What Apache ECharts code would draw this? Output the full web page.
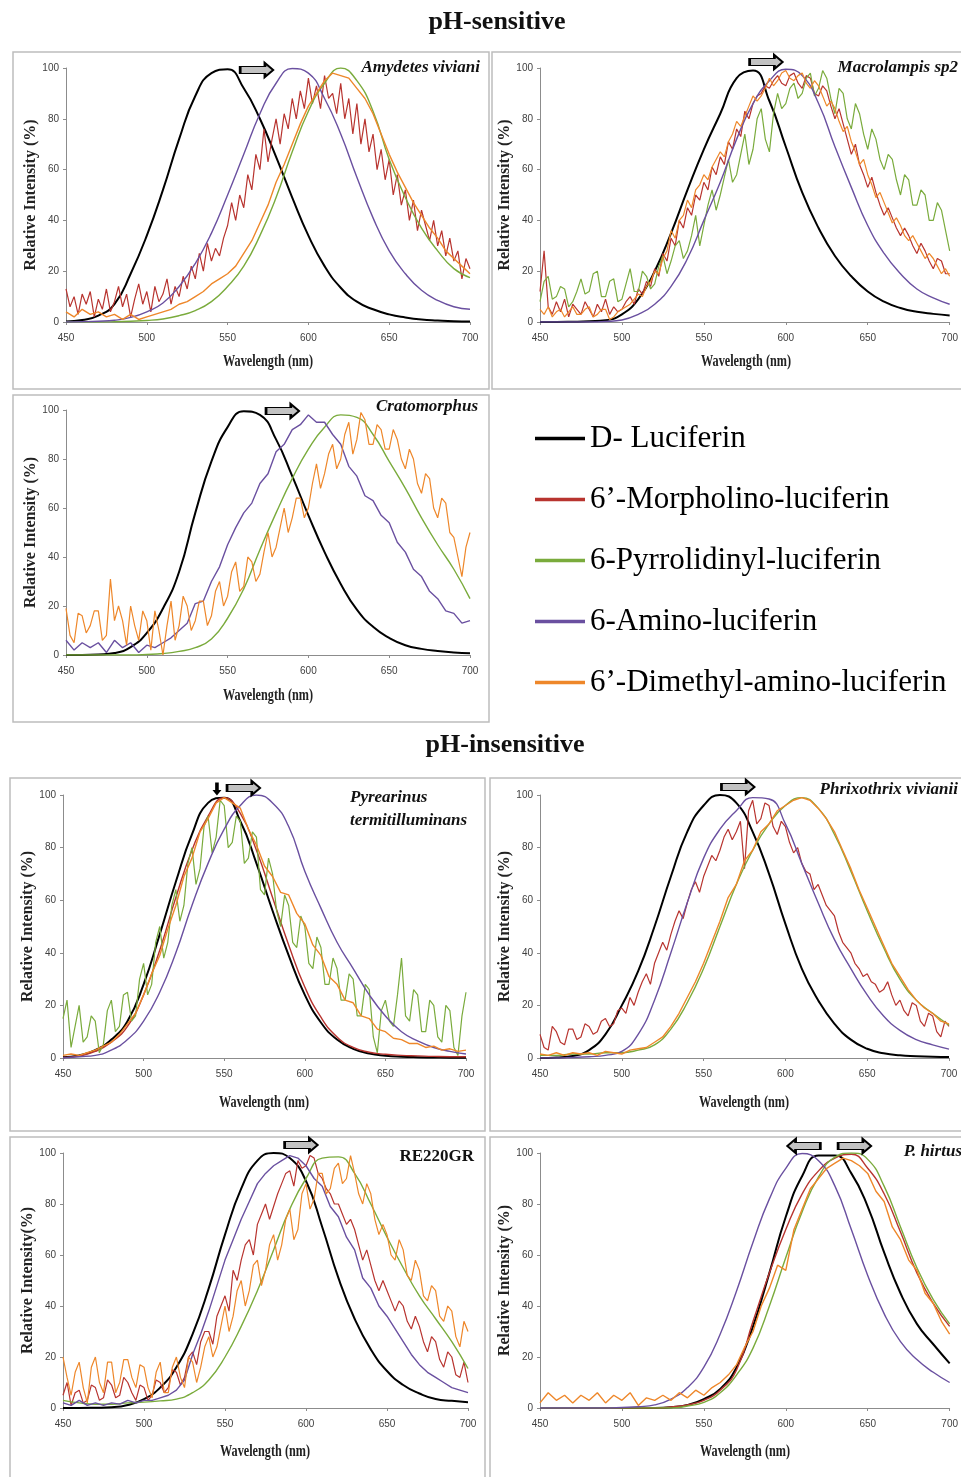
<!DOCTYPE html>
<html>
<head>
<meta charset="utf-8">
<title>Luciferin analogues – emission spectra</title>
<script src="https://cdn.jsdelivr.net/npm/echarts@6/dist/echarts.min.js"></script>
<style>
html, body { margin: 0; padding: 0; background: #fff; }
#chart { width: 961px; height: 1477px; }
</style>
</head>
<body>
<div id="chart"></div>
<script>
// wavelength grids (nm)
var wl10 = [450, 460, 470, 480, 490, 500, 510, 520, 530, 540, 550, 560, 570,
            580, 590, 600, 610, 620, 630, 640, 650, 660, 670, 680, 690, 700];
var wl5 = [450, 455, 460, 465, 470, 475, 480, 485, 490, 495,
           500, 505, 510, 515, 520, 525, 530, 535, 540, 545,
           550, 555, 560, 565, 570, 575, 580, 585, 590, 595,
           600, 605, 610, 615, 620, 625, 630, 635, 640, 645,
           650, 655, 660, 665, 670, 675, 680, 685, 690, 695, 700];
var wl25 = [450, 452.5, 455, 457.5, 460, 462.5, 465, 467.5, 470, 472.5,
            475, 477.5, 480, 482.5, 485, 487.5, 490, 492.5, 495, 497.5,
            500, 502.5, 505, 507.5, 510, 512.5, 515, 517.5, 520, 522.5,
            525, 527.5, 530, 532.5, 535, 537.5, 540, 542.5, 545, 547.5,
            550, 552.5, 555, 557.5, 560, 562.5, 565, 567.5, 570, 572.5,
            575, 577.5, 580, 582.5, 585, 587.5, 590, 592.5, 595, 597.5,
            600, 602.5, 605, 607.5, 610, 612.5, 615, 617.5, 620, 622.5,
            625, 627.5, 630, 632.5, 635, 637.5, 640, 642.5, 645, 647.5,
            650, 652.5, 655, 657.5, 660, 662.5, 665, 667.5, 670, 672.5,
            675, 677.5, 680, 682.5, 685, 687.5, 690, 692.5, 695, 697.5, 700];

var names = ['D- Luciferin', '6’-Morpholino-luciferin', '6-Pyrrolidinyl-luciferin',
             '6-Amino-luciferin', '6’-Dimethyl-amino-luciferin'];
var colors = ['#000000', '#b8342f', '#7aab3c', '#6a50a0', '#ee872a'];

// Amydetes viviani
var p1Black = [0.2, 0.8, 2.5, 7, 19, 34, 52, 72, 89, 98, 99.5, 92, 80, 65, 49, 34, 22, 13.5, 8, 5, 3, 1.8, 1, 0.6, 0.3, 0.2];
var p1Green = [0, 0, 0, 0.1, 0.3, 0.6, 1.2, 2.5, 4.5, 8, 14, 22, 34, 49, 67, 83, 94, 100, 95, 83, 64, 49, 37, 28, 21, 17.5];
var p1Purple = [0, 0.1, 0.3, 0.7, 1.8, 4, 7.5, 14, 23, 35, 50, 66, 82, 94, 99.8, 98, 88, 74, 57, 41, 28, 19, 12.5, 8.5, 6, 5];
var p1Red = [13, 6, 10, 3, 11, 7, 12, 2, 9, 5,
             13, 4, 8, 14, 6, 11, 2, 9, 15, 7,
             12, 4, 14, 8, 11, 17, 7, 14, 10, 18,
             13, 22, 17, 27, 20, 31, 24, 29, 26, 33,
             38, 47, 40, 50, 45, 58, 52, 66, 60, 76,
             63, 72, 80, 70, 82, 76, 88, 80, 91, 84,
             96, 86, 93, 84, 97, 88, 90, 82, 94, 80,
             88, 74, 86, 70, 80, 67, 74, 60, 68, 56,
             64, 50, 58, 46, 52, 40, 48, 36, 44, 38,
             32, 40, 30, 36, 26, 33, 24, 28, 17, 25, 21];
var p1Orange = [4, 2, 5, 3, 4, 2, 3, 1, 3, 1,
                2, 3, 4, 5, 7, 8, 10, 12, 15, 17,
                19, 22, 27, 32, 39, 46, 55, 62, 70, 78,
                85, 90, 95, 98, 97, 96, 92, 88, 82, 74,
                66, 59, 53, 47, 42, 37, 33, 28, 25, 22, 19];

// Macrolampis sp2
var p2Black = [0, 0, 0.1, 0.3, 0.7, 3, 9, 20, 35, 52, 68, 82, 96, 99, 87, 69, 51, 37, 26, 18, 12, 8, 5.5, 4, 3.2, 2.6];
var p2Purple = [0, 0, 0, 0, 0.2, 0.8, 3, 7, 14, 25, 40, 55, 72, 86, 95, 99.5, 97, 86, 69, 53, 38, 27, 19, 13, 9.5, 7];
var p2Red = [12, 28, 6, 3, 8, 4, 9, 2, 7, 5,
             3, 8, 5, 2, 7, 4, 9, 3, 6, 4,
             5, 8, 10, 7, 13, 11, 16, 14, 21, 18,
             27, 24, 33, 30, 40, 37, 45, 42, 50, 48,
             55, 52, 61, 58, 65, 62, 71, 68, 76, 73,
             83, 80, 86, 89, 90, 93, 92, 95, 97, 94,
             93, 97, 98, 94, 92, 97, 96, 90, 89, 93,
             91, 85, 80, 84, 78, 72, 66, 70, 62, 58,
             53, 57, 51, 46, 42, 45, 41, 37, 34, 37,
             34, 30, 27, 31, 28, 24, 21, 25, 24, 19, 19];
var p2Green = [8, 16, 18, 9, 10, 14, 13, 6, 8, 12,
               17, 11, 12, 19, 20, 10, 10, 16, 17, 8,
               9, 15, 21, 12, 12, 20, 18, 13, 15, 22,
               26, 19, 24, 30, 32, 25, 28, 34, 42, 30,
               38, 46, 52, 44, 50, 57, 64, 55, 58, 66,
               74, 62, 68, 80, 84, 72, 67, 82, 90, 84,
               86, 92, 94, 88, 90, 96, 98, 89, 92, 99,
               96, 88, 82, 92, 90, 80, 76, 86, 82, 74,
               68, 76, 72, 64, 60, 66, 64, 56, 50, 58,
               56, 46, 46, 52, 50, 40, 40, 47, 44, 36, 28];
var p2Orange = [5, 3, 6, 2, 4, 5, 2, 4, 6, 3,
                3, 5, 6, 2, 3, 5, 5, 1, 2, 4,
                5, 6, 7, 9, 11, 10, 14, 16, 20, 19,
                25, 28, 36, 33, 40, 42, 48, 45, 52, 54,
                58, 56, 61, 64, 67, 65, 71, 74, 79, 77,
                81, 85, 89, 87, 89, 92, 96, 93, 95, 98,
                99, 96, 95, 97, 98, 94, 92, 95, 93, 89,
                85, 87, 84, 79, 75, 77, 71, 67, 62, 64,
                58, 54, 49, 51, 47, 43, 39, 41, 38, 34,
                32, 34, 31, 28, 25, 27, 25, 22, 19, 21, 18];

// Cratomorphus
var p3Black = [0, 0, 0.2, 0.8, 3.2, 9, 19, 34, 58, 79, 93, 99.5, 98, 88, 73, 57, 42, 29, 18.5, 11.5, 7, 4, 2.5, 1.6, 1, 0.7];
var p3Green = [0, 0, 0, 0, 0, 0.2, 0.6, 1.5, 3, 6.5, 15, 27, 43, 58, 72, 84, 93, 98, 97, 90, 79, 68, 56, 45, 35, 23];
var p3Purple = [6, 2, 5, 3, 5, 1, 6, 3, 5, 1,
                4, 3, 5, 7, 10, 13, 21, 22, 30, 36,
                45, 52, 58, 62, 70, 74, 83, 86, 92, 94,
                98, 95, 95, 90, 86, 77, 73, 65, 63, 57,
                54, 46, 42, 35, 32, 26, 23, 18, 17, 13, 14];
var p3Orange = [19, 8, 5, 17, 16, 9, 12, 18, 18, 6,
                8, 31, 14, 20, 14, 4, 20, 12, 6, 18,
                14, 2, 18, 10, 0, 12, 22, 6, 12, 24,
                20, 10, 14, 22, 22, 12, 16, 26, 30, 20,
                24, 34, 38, 26, 28, 40, 38, 30, 33, 42,
                50, 40, 44, 52, 60, 50, 56, 64, 64, 56,
                60, 70, 78, 68, 74, 82, 86, 76, 80, 90,
                95, 82, 88, 99, 96, 86, 86, 94, 92, 84,
                84, 92, 88, 80, 76, 84, 80, 70, 66, 74,
                72, 60, 56, 64, 62, 50, 48, 40, 32, 44, 50];

// Pyrearinus termitilluminans
var p4Black = [0.3, 1, 3, 7, 14, 28, 47, 67, 85, 97, 99, 90, 74, 56, 39, 24, 13.5, 7, 3.5, 1.7, 0.9, 0.5, 0.3, 0.2, 0.1, 0.1];
var p4Red = [0.2, 0.8, 2.5, 6, 12, 24, 41, 61, 79, 92, 99, 93, 79, 61, 43, 27, 15.5, 8, 4, 2.2, 1.4, 1, 0.8, 0.6, 0.5, 0.5];
var p4Purple = [0, 0.5, 1, 3, 7, 14, 25, 40, 58, 74, 87, 96, 100, 97, 88, 71, 57, 44, 34, 24, 16, 10, 6.5, 4, 2.5, 1.5];
var p4Green = [15, 22, 4, 12, 20, 6, 8, 16, 14, 2,
               5, 18, 22, 10, 12, 24, 25, 14, 16, 30,
               36, 24, 28, 44, 50, 38, 44, 58, 64, 52,
               58, 74, 80, 66, 72, 88, 92, 78, 84, 98,
               96, 80, 82, 92, 90, 74, 76, 86, 84, 64,
               62, 76, 70, 56, 50, 62, 58, 44, 42, 54,
               50, 36, 34, 46, 42, 28, 28, 38, 34, 22,
               22, 32, 30, 16, 16, 28, 26, 8, 2, 18,
               22, 14, 12, 24, 38, 16, 14, 26, 24, 10,
               10, 22, 20, 8, 6, 20, 18, 4, 1, 16, 25];
var p4Orange = [1, 1.5, 1, 2, 3, 4.5, 6, 9, 13, 17,
                24, 32, 39, 49, 58, 69, 76, 86, 91, 97,
                99, 97, 95, 87, 81, 73, 69, 63, 62, 55,
                51, 43, 39, 31, 28, 22, 21, 16, 15, 11,
                10, 7.5, 7, 5.5, 5.5, 4, 4.5, 3, 3.5, 2.5, 3];

// Phrixothrix vivianii
var p5Black = [0, 0.2, 0.8, 3, 9, 20, 33, 50, 69, 86, 96, 100, 97, 86, 70, 51, 34, 22, 13, 7, 3.5, 1.8, 1, 0.7, 0.5, 0.4];
var p5Green = [1, 1, 1.5, 1.5, 2, 2, 3, 5, 11, 21, 34, 50, 66, 79, 89, 96, 99, 95, 85, 71, 56, 42, 30, 22, 17, 12.5];
var p5Purple = [0, 0, 0.2, 0.5, 1, 2.5, 9, 22, 40, 59, 76, 87, 94, 99, 98.5, 89, 74, 59, 45, 34, 24, 16, 10.5, 7, 5, 3.4];
var p5Red = [9, 4, 3, 12, 10, 6, 5, 11, 11, 7,
             8, 13, 12, 9, 10, 14, 15, 12, 13, 18,
             19, 17, 23, 20, 25, 29, 32, 28, 36, 40,
             44, 41, 47, 52, 56, 53, 59, 64, 67, 63,
             69, 73, 77, 75, 79, 84, 87, 83, 86, 90,
             72, 94, 98, 89, 91, 97, 96, 88, 85, 90,
             88, 82, 78, 80, 74, 71, 70, 64, 66, 62,
             58, 56, 54, 48, 44, 42, 40, 36, 34, 31,
             32, 29, 28, 25, 26, 29, 24, 20, 22, 18,
             16, 21, 20, 14, 12, 17, 16, 10, 8, 14, 12];
var p5Orange = [1.5, 1, 2, 1, 2, 1.5, 2, 1, 2.5, 2,
                1.5, 3, 3.5, 4, 6, 8, 12, 17, 23, 29,
                36, 44, 52, 61, 66, 75, 79, 86, 89, 94,
                96, 98, 99, 98, 95, 91, 86, 79, 72, 64,
                57, 50, 43, 36, 31, 26, 22, 19, 17, 14, 13];

// RE220GR
var p6Black = [0, 0, 0.1, 0.3, 1.2, 3.5, 8, 16, 29, 47, 68, 86, 97, 100, 98, 89, 71, 51, 35, 23, 14.5, 9, 5.7, 3.5, 2.8, 2.3];
var p6Green = [3, 2, 1.5, 1.5, 2, 2.3, 2.8, 3.5, 6, 11, 20, 32, 46, 62, 78, 90, 98, 98.5, 92, 80, 67, 55, 44, 35, 26, 15.5];
var p6Red = [5, 10, 1, 6, 7, 2, 3, 9, 8, 3,
             4, 11, 9, 4, 5, 12, 10, 6, 3, 9,
             8, 3, 5, 11, 10, 6, 8, 15, 14, 9,
             12, 20, 22, 17, 26, 30, 30, 25, 36, 40,
             44, 38, 54, 50, 58, 64, 66, 60, 72, 76,
             80, 74, 79, 84, 88, 92, 93, 87, 97, 94,
             95, 99, 98, 92, 90, 86, 84, 80, 80, 76,
             72, 74, 70, 64, 58, 62, 56, 50, 46, 50,
             46, 42, 38, 42, 40, 34, 31, 36, 32, 26,
             22, 28, 26, 19, 16, 22, 20, 13, 12, 18, 10];
var p6Purple = [2, 1, 3, 1, 2, 1, 2, 1.5, 3, 2,
                3, 3, 4, 5, 7, 11, 21, 29, 38, 48,
                58, 66, 74, 81, 88, 92, 95, 97, 99, 98,
                95, 90, 87, 79, 75, 67, 62, 51, 47, 40,
                36, 31, 26, 21, 17, 14, 12, 10, 8, 7, 6];
var p6Orange = [20, 12, 5, 14, 18, 8, 2, 16, 20, 10,
                6, 18, 18, 6, 10, 19, 19, 12, 8, 17,
                16, 8, 4, 14, 18, 6, 6, 16, 20, 12,
                8, 20, 18, 10, 16, 24, 28, 20, 24, 32,
                40, 30, 36, 46, 50, 40, 46, 56, 58, 48,
                54, 64, 68, 58, 64, 74, 78, 66, 70, 84,
                88, 78, 82, 92, 92, 84, 86, 94, 96, 88,
                90, 99, 92, 84, 80, 88, 84, 74, 68, 72,
                68, 60, 58, 66, 62, 52, 50, 58, 54, 44,
                42, 48, 46, 36, 34, 40, 38, 28, 24, 34, 30];

// P. hirtus
var p7Black = [0, 0, 0, 0, 0, 0, 0, 0, 0.3, 1.2, 3.5, 7.5, 16, 32, 53, 75, 91, 99, 99, 92, 79, 61, 45, 33, 25, 17.5];
var p7Red = [0, 0, 0, 0, 0, 0, 0, 0, 0.4, 1.2, 3, 7, 15, 34, 53, 70, 84, 93, 98, 99.5, 94, 84, 69, 53, 41, 32];
var p7Green = [0, 0, 0, 0, 0, 0, 0, 0, 0, 0.8, 2.2, 6, 13, 23.5, 40, 59, 77, 90.6, 98.4, 100, 97.5, 87, 71, 55, 42.5, 33];
var p7Purple = [0, 0, 0, 0, 0, 0.2, 0.5, 1.2, 3.5, 8, 16, 29, 46, 65, 82, 94, 99.8, 97, 87, 70, 52, 37, 26, 19, 14, 10];
var p7Orange = [2, 6, 3, 5, 2, 5, 3, 6, 2, 5,
                3, 6, 1, 4, 3, 5, 3, 6, 4, 7,
                5, 8, 10, 13, 17, 24, 30, 40, 47, 56,
                54, 70, 78, 86, 90, 94, 96, 98, 97, 95,
                92, 85, 81, 71, 66, 58, 54, 45, 41, 34, 29];

var ARROW_R = 'path://M0,3.5 L24,3.5 L24,0 L32,7 L24,14 L24,10.5 L0,10.5 Z';
var ARROW_L = 'path://M32,3.5 L8,3.5 L8,0 L0,7 L8,14 L8,10.5 L32,10.5 Z';
var ARROW_D = 'path://M3,0 L7,0 L7,8 L10,8 L5,14 L0,8 L3,8 Z';

var panels = [
    {
        grid: [66, 68, 404, 254], box: [13, 52, 476, 337], xname: [268, 362],
        label: { text: 'Amydetes viviani', x: 480, y: 68, align: 'right', italic: true },
        lines: [[0, wl10, p1Black], [1, wl25, p1Red], [2, wl10, p1Green], [3, wl10, p1Purple], [4, wl5, p1Orange]],
        arrows: [{ symbol: ARROW_R, coord: [568, 100], offset: [0, 2] }]
    },
    {
        grid: [540, 68, 411, 254], box: [492, 52, 475, 337], xname: [746, 362],
        label: { text: 'Macrolampis sp2', x: 958, y: 68, align: 'right', italic: true },
        lines: [[0, wl10, p2Black], [1, wl25, p2Red], [2, wl25, p2Green], [3, wl10, p2Purple], [4, wl25, p2Orange]],
        arrows: [{ symbol: ARROW_R, coord: [588, 100], offset: [0, -6] }]
    },
    {
        grid: [66, 410, 404, 245], box: [13, 395, 476, 327], xname: [268, 696],
        label: { text: 'Cratomorphus', x: 478, y: 407, align: 'right', italic: true },
        lines: [[0, wl10, p3Black], [2, wl10, p3Green], [3, wl5, p3Purple], [4, wl25, p3Orange]],
        arrows: [{ symbol: ARROW_R, coord: [584, 100], offset: [0, 1] }]
    },
    {
        grid: [63, 795, 403, 263], box: [10, 778, 475, 353], xname: [264, 1103],
        label: { text: 'Pyrearinus\ntermitilluminans', x: 350, y: 786, align: 'left', va: 'top', italic: true },
        lines: [[0, wl10, p4Black], [1, wl10, p4Red], [2, wl25, p4Green], [3, wl10, p4Purple], [4, wl5, p4Orange]],
        arrows: [{ symbol: ARROW_R, coord: [562, 100], offset: [0, -7] },
                 { symbol: ARROW_D, coord: [545.5, 100], offset: [0, -6], size: [9, 13], color: '#000' }]
    },
    {
        grid: [540, 795, 409, 263], box: [490, 778, 476, 353], xname: [744, 1103],
        label: { text: 'Phrixothrix vivianii', x: 958, y: 790, align: 'right', italic: true },
        lines: [[0, wl10, p5Black], [1, wl25, p5Red], [2, wl10, p5Green], [3, wl10, p5Purple], [4, wl5, p5Orange]],
        arrows: [{ symbol: ARROW_R, coord: [571, 100], offset: [0, -8] }]
    },
    {
        grid: [63, 1153, 405, 255], box: [10, 1137, 475, 345], xname: [265, 1452], yname: 'Relative Intensity(%)',
        label: { text: 'RE220GR', x: 474, y: 1157, align: 'right', italic: false },
        lines: [[0, wl10, p6Black], [1, wl25, p6Red], [2, wl10, p6Green], [3, wl5, p6Purple], [4, wl25, p6Orange]],
        arrows: [{ symbol: ARROW_R, coord: [597, 100], offset: [0, -8] }]
    },
    {
        grid: [540, 1153, 410, 255], box: [490, 1137, 476, 345], xname: [745, 1452],
        label: { text: 'P. hirtus', x: 962, y: 1152, align: 'right', italic: true },
        lines: [[0, wl10, p7Black], [1, wl10, p7Red], [2, wl10, p7Green], [3, wl10, p7Purple], [4, wl5, p7Orange]],
        arrows: [{ symbol: ARROW_L, coord: [611, 100], offset: [0, -7] },
                 { symbol: ARROW_R, coord: [642, 100], offset: [0, -7] }]
    }
];

function pairs(xs, ys) {
    return xs.map(function (x, i) { return [x, ys[i]] })
}

var grids = [], xAxes = [], yAxes = [], series = [];
var graphics = [
    { type: 'text', x: 497, y: 22, silent: true,
      style: { text: 'pH-sensitive', align: 'center', verticalAlign: 'middle', fill: '#111',
               fontFamily: 'Liberation Serif', fontWeight: 'bold', fontSize: 26 } },
    { type: 'text', x: 505, y: 745, silent: true,
      style: { text: 'pH-insensitive', align: 'center', verticalAlign: 'middle', fill: '#111',
               fontFamily: 'Liberation Serif', fontWeight: 'bold', fontSize: 26 } }
];

panels.forEach(function (p, gi) {
    grids.push({ left: p.grid[0], top: p.grid[1], width: p.grid[2], height: p.grid[3] });
    xAxes.push({
        type: 'value', gridIndex: gi, min: 450, max: 700, interval: 50,
        axisLine: { lineStyle: { color: '#8c8c8c' } },
        axisTick: { length: 3, lineStyle: { color: '#8c8c8c' } },
        splitLine: { show: false },
        axisLabel: { fontSize: 10, color: '#404040', fontFamily: 'Liberation Sans', margin: 11 }
    });
    yAxes.push({
        type: 'value', gridIndex: gi, min: 0, max: 100, interval: 20,
        name: p.yname || 'Relative Intensity (%)', nameLocation: 'middle', nameGap: 24,
        nameTextStyle: { fontFamily: 'Liberation Serif', fontWeight: 'bold', fontSize: 16, color: '#222' },
        axisLine: { show: true, lineStyle: { color: '#8c8c8c' } },
        axisTick: { show: true, length: 3, lineStyle: { color: '#8c8c8c' } },
        splitLine: { show: false },
        axisLabel: { fontSize: 10, color: '#404040', fontFamily: 'Liberation Sans', margin: 7 }
    });

    p.lines.forEach(function (l, li) {
        var s = {
            type: 'line', name: names[l[0]], xAxisIndex: gi, yAxisIndex: gi,
            data: pairs(l[1], l[2]),
            showSymbol: false, smooth: l[1] === wl10 ? 0.5 : false,
            color: colors[l[0]],
            lineStyle: { width: l[0] === 0 ? 2 : (l[1] === wl25 ? 1.2 : 1.4), color: colors[l[0]] },
            emphasis: { disabled: true }
        };
        if (li === 0) {
            s.markPoint = {
                silent: true, label: { show: false },
                data: p.arrows.map(function (a) {
                    return {
                        coord: a.coord, symbol: a.symbol, symbolSize: a.size || [33, 14],
                        symbolOffset: a.offset,
                        itemStyle: { color: a.color || '#c2c2c2', borderColor: '#000', borderWidth: a.color ? 0 : 1.8 }
                    }
                })
            };
        }
        series.push(s);
    });

    graphics.push({ type: 'rect', silent: true, z: -1,
        shape: { x: p.box[0], y: p.box[1], width: p.box[2], height: p.box[3] },
        style: { fill: 'none', stroke: '#bdbdbd', lineWidth: 1.5 } });
    graphics.push({ type: 'text', x: p.xname[0], y: p.xname[1], scaleX: 0.72, silent: true,
        style: { text: 'Wavelength (nm)', align: 'center', verticalAlign: 'middle', fill: '#222',
                 fontFamily: 'Liberation Serif', fontWeight: 'bold', fontSize: 17 } });
    graphics.push({ type: 'text', x: p.label.x, y: p.label.y, silent: true,
        style: { text: p.label.text, align: p.label.align, verticalAlign: p.label.va || 'middle',
                 fill: '#111', fontFamily: 'Liberation Serif', fontWeight: 'bold',
                 fontStyle: p.label.italic ? 'italic' : 'normal', fontSize: 17, lineHeight: 23 } });
});

var chart = echarts.init(document.getElementById('chart'));
chart.setOption({
    animation: false,
    backgroundColor: '#fff',
    legend: {
        data: names, orient: 'vertical', left: 530, top: 418,
        icon: 'rect', itemWidth: 50, itemHeight: 3.5, itemGap: 30, selectedMode: false,
        textStyle: { fontFamily: 'Liberation Serif', fontSize: 31, lineHeight: 31, color: '#000' }
    },
    grid: grids,
    xAxis: xAxes,
    yAxis: yAxes,
    series: series,
    graphic: graphics
});
</script>
</body>
</html>
